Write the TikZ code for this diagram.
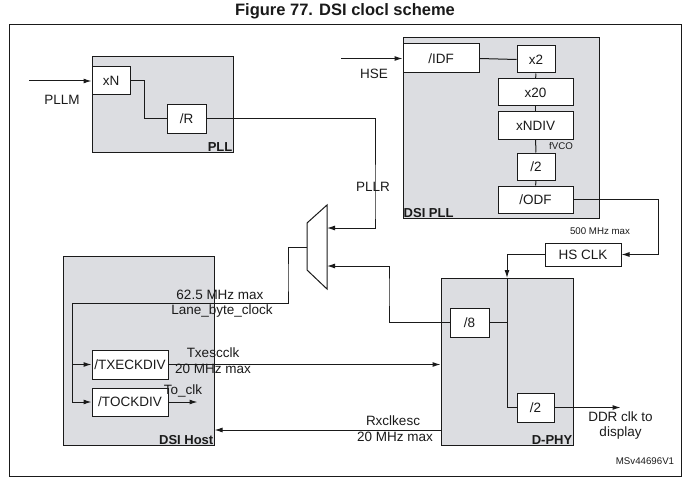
\documentclass[tikz,border=0pt]{standalone}
\usepackage{fontspec}
\setmainfont{Liberation Sans}
\usetikzlibrary{arrows.meta, positioning, calc}
\definecolor{ink}{HTML}{1A1A1A}
\definecolor{blockgray}{HTML}{DCDDE1}
\tikzset{
  font=\fontsize{13.5}{15}\selectfont,
  >={Latex[length=8pt, width=5pt]},
  %
  block/.style={draw=ink, line width=1pt, fill=blockgray, inner sep=0pt},
  box/.style={draw=ink, line width=1pt, fill=white, inner sep=0pt,
              align=center, text=ink},
  %
  wire/.style={draw=ink, line width=1pt},
  flow/.style={wire, ->},
  %
  lbl/.style={inner sep=1pt, text=ink, align=center},
  tinylbl/.style={font=\fontsize{9.7}{11}\selectfont, inner sep=1pt, text=ink},
  blocklbl/.style={font=\fontsize{13}{15}\selectfont\bfseries, inner sep=1pt, text=ink},
}

\begin{document}
\begin{tikzpicture}[x=1pt, y=-1pt]

  \useasboundingbox (0,0) rectangle (690,484);

  \node[font=\fontsize{16.5}{18}\selectfont\bfseries, text=ink] (title) at (345,11)
    {Figure 77. DSI clocl scheme};
  \draw[ink, line width=1pt] (9,25) rectangle (681,476);

  % grey blocks
  \node[block, minimum width=141pt, minimum height=95pt]  (pll)    at (162.5,104.5) {};
  \node[block, minimum width=196pt, minimum height=180pt] (dsipll) at (501,128) {};
  \node[block, minimum width=151pt, minimum height=189pt] (host)   at (138.5,350.5) {};
  \node[block, minimum width=132pt, minimum height=167pt] (dphy)   at (507,361.5) {};

  \node[blocklbl, anchor=south east] at (pll.south east)    {PLL};
  \node[blocklbl, anchor=south west] at (dsipll.south west) {DSI PLL};
  \node[blocklbl, anchor=south east] at (host.south east)   {DSI Host};
  \node[blocklbl, anchor=south east] at (dphy.south east)   {D-PHY};

  % PLL
  \node[box, minimum width=38pt, minimum height=28pt] (xn) at (111,81)    {xN};
  \node[box, minimum width=39pt, minimum height=28pt] (r)  at (186.5,119) {/R};

  % DSI PLL
  \node[box, minimum width=76pt, minimum height=29pt] (idf)   at (441,58.5)    {/IDF};
  \node[box, minimum width=38pt, minimum height=27pt] (x2)    at (536,59.5)    {x2};
  \node[box, minimum width=75pt, minimum height=27pt] (x20)   at (535.5,92.5)  {x20};
  \node[box, minimum width=75pt, minimum height=27pt] (ndiv)  at (535.5,125.5) {xNDIV};
  \node[box, minimum width=38pt, minimum height=27pt] (half)  at (536,166.5)   {/2};
  \node[box, minimum width=75pt, minimum height=27pt] (odf)   at (535.5,199.5) {/ODF};
  \node[tinylbl] (fvco) at (561,146) {fVCO};

  % HS clock and D-PHY
  \node[box, minimum width=76pt, minimum height=23pt] (hsclk) at (583,254.5) {HS CLK};
  \node[tinylbl] (hsmax) at (600,231) {500 MHz max};
  \node[box, minimum width=39pt, minimum height=29pt] (div8)  at (469.5,322.5) {/8};
  \node[box, minimum width=37pt, minimum height=29pt] (div2)  at (535.5,407.5) {/2};

  % DSI Host
  \node[box, minimum width=76pt, minimum height=29pt] (txdiv) at (130,364.5) {/TXECKDIV};
  \node[box, minimum width=76pt, minimum height=28pt] (todiv) at (130,402)   {/TOCKDIV};

  % mux
  \coordinate (muxa)   at (327,228);
  \coordinate (muxb)   at (327,266);
  \coordinate (muxout) at (307,247);
  \draw[wire] (307,223) -- (327,205) -- (327,289) -- (307,270) -- cycle;

  % PLL path
  \coordinate (pllm) at (29,81);
  \draw[flow] (pllm) -- (xn.west);
  \node[lbl] at (62,100) {PLLM};
  \draw[wire] (xn.east) -- ++(14,0) |- (r.west);
  \draw[flow] (r.east) -| (375,210) |- (muxa);
  \node[lbl] at (373,187) {PLLR};

  % DSI PLL chain
  \coordinate (hse) at (341,58.5);
  \draw[flow] (hse) -- (idf.west);
  \node[lbl] at (374,74) {HSE};
  \draw[wire] (idf.east) -- (x2.west);
  \draw[wire] (x2) -- (x20);
  \draw[wire] (x20) -- (ndiv);
  \draw[wire] (ndiv) -- (half);
  \draw[wire] (half) -- (odf);
  \draw[flow] (odf.east) -| (658,230) |- (hsclk.east);

  % HS clock into D-PHY
  \coordinate (dphyin) at (507,278);
  \draw[flow] (hsclk.west) -| (dphyin);
  \draw[wire] (dphyin) |- (div2.west);
  \draw[wire] (div8.east) -- (div8.east -| dphyin);
  \draw[flow] (div2.east) -- ++(66,0) coordinate (ddr);
  \node[lbl, below=3pt of ddr, font=\fontsize{13.5}{15.5}\selectfont] {DDR clk to\\display};
  \draw[flow] (div8.west) -| (389,290) |- (muxb);

  % lane byte clock into DSI Host
  \coordinate (lbc) at (72,303);
  \draw[flow] (muxout) -| (288,280) |- (lbc) |- (todiv.west);
  \draw[flow] (lbc |- txdiv.west) -- (txdiv.west);
  \node[lbl] at (220,295) {62.5 MHz max};
  \node[lbl] at (222,311) {Lane\_byte\_clock};

  % escape clocks
  \draw[flow] (txdiv.east) -- (txdiv.east -| dphy.west);
  \node[lbl] at (213,353) {Txescclk};
  \node[lbl] at (213,369) {20 MHz max};
  \draw[flow] (todiv.east) -- ++(29,0);
  \node[lbl] at (183,391) {To\_clk};
  \draw[flow] (dphy.west |- 0,430) -- (host.east |- 0,430);
  \node[lbl] at (393,421) {Rxclkesc};
  \node[lbl] at (395,437) {20 MHz max};

  \node[tinylbl] (ref) at (645,461) {MSv44696V1};

\end{tikzpicture}
\end{document}
